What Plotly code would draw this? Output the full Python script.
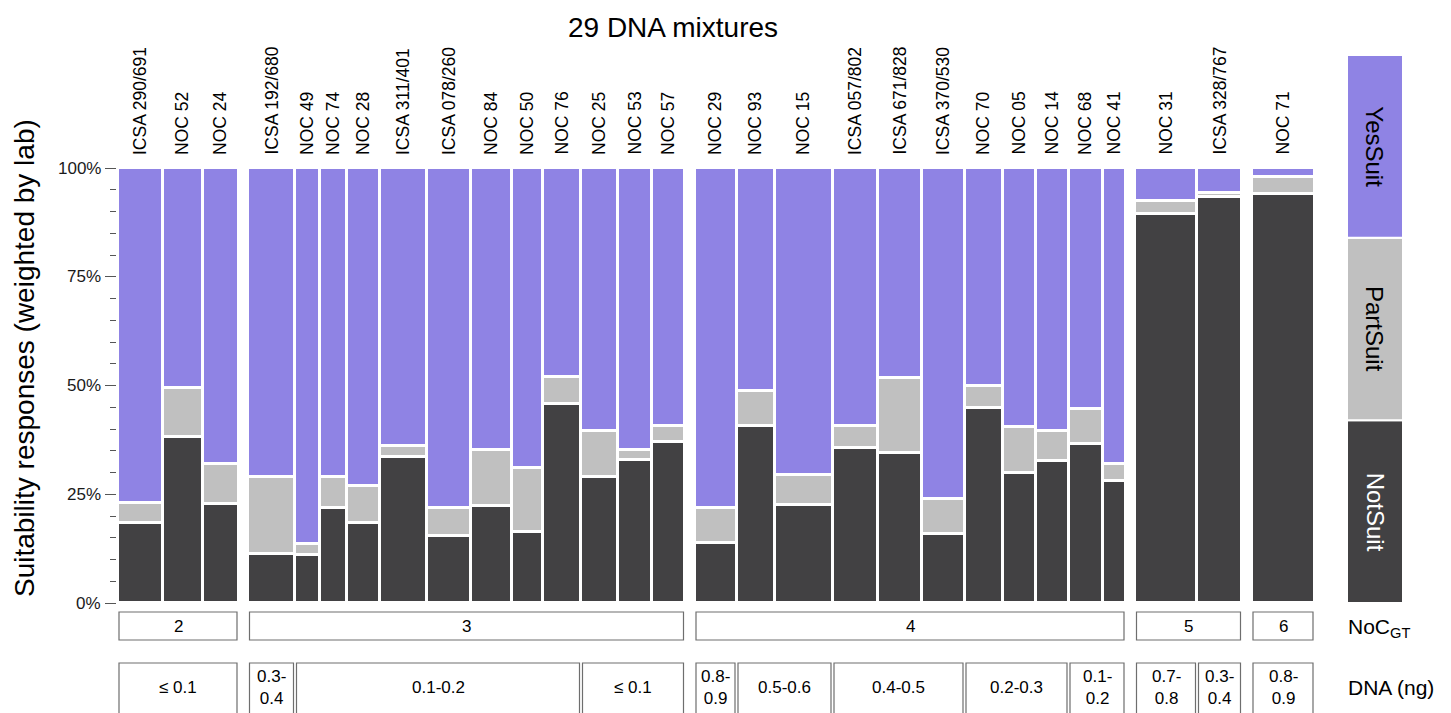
import plotly.graph_objects as go

# ---- data -------------------------------------------------------------
mixtures = [
    "ICSA 290/691", "NOC 52", "NOC 24",
    "ICSA 192/680", "NOC 49", "NOC 74", "NOC 28", "ICSA 311/401", "ICSA 078/260",
    "NOC 84", "NOC 50", "NOC 76", "NOC 25", "NOC 53", "NOC 57",
    "NOC 29", "NOC 93", "NOC 15", "ICSA 057/802", "ICSA 671/828", "ICSA 370/530",
    "NOC 70", "NOC 05", "NOC 14", "NOC 68", "NOC 41",
    "NOC 31", "ICSA 328/767",
    "NOC 71",
]
noc_gt = [2] * 3 + [3] * 12 + [4] * 11 + [5] * 2 + [6]
dna_ng = (
    ["≤ 0.1"] * 3
    + ["0.3-0.4"] + ["0.1-0.2"] * 8 + ["≤ 0.1"] * 3
    + ["0.8-0.9"] + ["0.5-0.6"] * 2 + ["0.4-0.5"] * 3 + ["0.2-0.3"] * 3 + ["0.1-0.2"] * 2
    + ["0.7-0.8", "0.3-0.4"]
    + ["0.8-0.9"]
)
# relative lab weight of each mixture (bar width)
weights = [45, 40, 36,
           47, 25, 27, 33, 47, 44, 41, 31, 38, 37, 34, 33,
           42, 38, 58, 45, 44, 43, 38, 33, 33, 34, 23,
           62, 45,
           63]
not_suit = [18.4, 38.2, 22.7,
            11.2, 11.1, 21.8, 18.5, 33.5, 15.5, 22.3, 16.3, 45.7, 28.9, 32.9, 37.0,
            13.7, 40.6, 22.6, 35.6, 34.4, 15.8, 44.8, 29.8, 32.7, 36.5, 28.1,
            89.4, 93.4,
            94.0]
part_suit = [4.7, 11.3, 9.3,
             17.7, 2.4, 7.1, 8.4, 2.5, 6.3, 12.9, 14.7, 6.3, 10.6, 2.2, 3.6,
             8.1, 8.1, 6.8, 5.0, 17.3, 8.1, 5.2, 10.6, 6.8, 8.1, 3.8,
             3.0, 0.8,
             4.0]
yes_suit = [76.9, 50.5, 68.0,
            71.1, 86.5, 71.1, 73.1, 64.0, 78.2, 64.8, 69.0, 48.0, 60.5, 64.9, 59.4,
            78.2, 51.3, 70.6, 59.4, 48.3, 76.1, 50.0, 59.6, 60.5, 55.4, 68.1,
            7.6, 5.8,
            2.0]
categories = ["NotSuit", "PartSuit", "YesSuit"]
y_ticks = [0, 25, 50, 75, 100]

# ---- styling ----------------------------------------------------------
FONT = "Liberation Sans, Arial, Helvetica, sans-serif"
COLORS = {"NotSuit": "#424143", "PartSuit": "#C0C0C0", "YesSuit": "#8F83E4"}
TEXT_COLORS = {"NotSuit": "white", "PartSuit": "black", "YesSuit": "black"}
SEP = 3            # white separator between tiles
GROUP_GAP = 9.5    # extra space between NoC groups
BOX_LINE = "#6E6E6E"

W, H = 1451, 713
ML, MR, MT, MB = 117, 44, 168, 110
x_span = W - ML - MR          # one x unit per pixel
plot_h = H - MT - MB

# bar placement: widths follow the lab weights, groups are separated
lefts = []
pos = 0.5
prev = None
for g, w in zip(noc_gt, weights):
    if prev is not None and g != prev:
        pos += GROUP_GAP
    lefts.append(pos)
    pos += w
    prev = g
centers = [l + w / 2 for l, w in zip(lefts, weights)]

fig = go.Figure()
for cat, vals in zip(categories, [not_suit, part_suit, yes_suit]):
    fig.add_trace(go.Bar(
        x=centers, y=vals, width=weights, name=cat,
        marker=dict(color=COLORS[cat], line=dict(color="white", width=SEP)),
        showlegend=False, hoverinfo="skip",
    ))


def runs(keys):
    """Consecutive runs of identical keys -> (start index, end index, key)."""
    out = []
    start = 0
    for i in range(1, len(keys) + 1):
        if i == len(keys) or keys[i] != keys[start]:
            out.append((start, i - 1, keys[start]))
            start = i
    return out


def yp(px):
    """pixel row -> paper y"""
    return (H - MB - px) / plot_h


shapes = []
annotations = []


def label(x, y, text, size, color="black", xref="x", yref="paper",
          xanchor="center", yanchor="middle", angle=0):
    annotations.append(dict(x=x, y=y, xref=xref, yref=yref, text=text,
                            xanchor=xanchor, yanchor=yanchor, textangle=angle,
                            showarrow=False, align="center", borderpad=0,
                            font=dict(size=size, color=color, family=FONT)))


# mixture names above the bars
for c, name in zip(centers, mixtures):
    label(c, yp(156), name, 17.5, yanchor="bottom", angle=-90)

# percentage labels beside the y ticks
for v in y_ticks:
    label((102 - ML) / x_span, v, f"{v}%", 17, color="#1a1a1a",
          xref="paper", yref="y", xanchor="right")

# NoC_GT boxes
for a, b, g in runs(noc_gt):
    x0 = lefts[a] + SEP / 2
    x1 = lefts[b] + weights[b] - SEP / 2
    shapes.append(dict(type="rect", xref="x", yref="paper", x0=x0, x1=x1,
                       y0=yp(640), y1=yp(612), line=dict(color=BOX_LINE, width=1.2),
                       fillcolor="white"))
    label((x0 + x1) / 2, yp(626), str(g), 17)

# DNA amount boxes (runs inside each NoC group)
dna_keys = [(g, d) for g, d in zip(noc_gt, dna_ng)]
for a, b, (g, d) in runs(dna_keys):
    x0 = lefts[a] + SEP / 2
    x1 = lefts[b] + weights[b] - SEP / 2
    shapes.append(dict(type="rect", xref="x", yref="paper", x0=x0, x1=x1,
                       y0=yp(725), y1=yp(663), line=dict(color=BOX_LINE, width=1.2),
                       fillcolor="white"))
    text = d
    if x1 - x0 < 70 and "-" in d:
        lo, hi = d.split("-")
        text = f"{lo}-<br>{hi}"
    label((x0 + x1) / 2, yp(687), text, 17)

# row captions on the right
label(1230, yp(628), "NoC<sub>GT</sub>", 21, xanchor="left")
label(1230, yp(687), "DNA (ng)", 21, xanchor="left")

# colour key on the right
key_x0, key_x1 = 1230, 1286
key_top = yp(55)
seg = key_top / 3
for i, cat in enumerate(categories):
    y0, y1 = i * seg, (i + 1) * seg
    shapes.append(dict(type="rect", xref="x", yref="paper", x0=key_x0, x1=key_x1,
                       y0=y0, y1=y1, fillcolor=COLORS[cat],
                       line=dict(color="white", width=2)))
    label((key_x0 + key_x1) / 2, (y0 + y1) / 2, cat, 24, color=TEXT_COLORS[cat], angle=90)

# y axis title
label((24 - ML) / x_span, yp(358), "Suitability responses (weighted by lab)", 28,
      xref="paper", angle=-90)

fig.update_layout(
    width=W, height=H,
    margin=dict(l=ML, r=MR, t=MT, b=MB, autoexpand=False),
    paper_bgcolor="white", plot_bgcolor="white",
    barmode="stack", bargap=0,
    font=dict(family=FONT, color="black", size=17),
    title=dict(text="29 DNA mixtures", x=673 / W, xref="container", xanchor="center",
               y=1 - 27 / H, yref="container", yanchor="middle",
               font=dict(size=28, color="black", family=FONT)),
    shapes=shapes, annotations=annotations,
)
fig.update_xaxes(
    range=[0, x_span], showticklabels=False, ticks="", showgrid=False,
    showline=False, zeroline=False, fixedrange=True,
)
fig.update_yaxes(
    range=[0, 100], tickmode="array", tickvals=y_ticks, showticklabels=False,
    ticks="outside", ticklen=11, tickcolor="#555555", tickwidth=1.2,
    minor=dict(dtick=5, ticks="outside", ticklen=6, tickcolor="#555555", tickwidth=1.2),
    showgrid=False, showline=False, zeroline=False, fixedrange=True,
)

fig.write_html("out.html")
